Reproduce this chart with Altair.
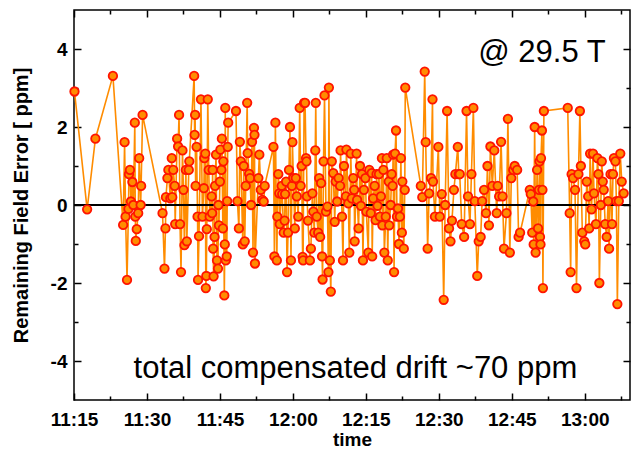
import altair as alt
import pandas as pd

# Minutes after 11:15 at which each compensation reading was logged
minutes = [
    0.1, 2.7, 4.4, 8.0, 10.1, 10.4, 10.6, 10.9, 11.2, 11.3, 11.5, 11.7, 12.0, 12.2,
    12.5, 12.6, 12.7, 12.9, 13.2, 13.4, 13.7, 13.8, 14.1, 18.2,
    18.6, 18.8, 18.9, 19.2, 19.4, 19.8, 20.1, 20.2, 20.4, 20.7, 20.8, 21.2, 21.4,
    21.6, 21.8, 22.0, 22.3, 22.5, 22.7, 23.0, 23.2, 23.6, 23.7, 24.7, 24.8, 24.9,
    25.0, 25.2, 25.4, 25.5, 25.7, 26.1, 26.4, 26.7, 26.8, 27.0, 27.1, 27.2, 27.3,
    27.5, 27.7, 27.9, 28.3, 28.4, 28.5, 28.6, 28.7, 28.9, 29.0, 29.2, 29.4, 29.6,
    29.7, 29.8, 30.0, 30.1, 30.3, 30.4, 30.6, 30.7, 30.9, 31.0, 31.1, 31.2, 31.4,
    31.5, 31.6, 31.7, 33.3, 33.6, 33.9, 34.1, 34.3, 34.7, 34.9, 35.1, 35.3, 35.6,
    35.7, 36.0, 36.2, 36.4, 36.6, 36.8, 37.0, 37.1, 37.2,
    37.9, 38.1, 38.4, 38.7, 39.0, 39.2, 41.0, 41.2, 41.4, 41.7, 41.8, 42.0, 42.2,
    42.3, 42.7, 42.8, 43.1, 43.3, 43.4, 43.6, 43.8, 44.0, 44.2, 44.4, 44.6, 44.8,
    44.9, 45.1, 45.4, 45.6, 45.8, 46.1, 46.4, 46.6, 46.8, 47.0, 47.1, 47.3, 47.5,
    47.7, 47.8, 47.9, 48.1, 48.5, 48.7, 49.0, 49.2, 49.4, 49.6, 49.7, 49.9, 50.2,
    50.4, 50.6, 50.8, 51.0, 51.1, 51.3, 51.5, 51.8, 52.1, 52.3, 52.4, 52.6, 52.8,
    53.0, 53.3, 53.6, 53.8, 54.1, 54.4, 54.7, 54.8, 55.1, 55.3, 55.5,
    55.9, 56.0, 56.4, 56.6, 56.9, 57.1, 57.4, 57.6, 57.7, 58.1, 58.2, 58.5, 58.8,
    59.0, 59.2, 59.4, 59.6, 59.9, 60.1, 60.5, 60.7, 61.0, 61.2, 61.3, 61.5, 61.8,
    62.0, 62.2, 62.4, 62.7, 62.9, 63.1, 63.3, 63.4, 63.6, 63.8, 64.1, 64.3, 64.5,
    64.7, 64.8, 65.1, 65.3, 65.5, 65.6, 65.8, 66.0, 66.2, 66.4, 66.6, 66.8, 67.0,
    67.2, 67.4, 67.5, 67.8, 68.0, 68.1, 71.3, 71.6, 72.1, 72.3, 72.7, 73.0, 73.4,
    73.7, 73.8, 74.2,
    74.9, 75.2, 75.6, 76.0, 76.3, 76.7, 77.1, 77.4, 77.7, 78.1, 78.4, 78.9, 79.1,
    79.3, 79.7, 80.2, 80.7, 81.0, 81.4, 81.7, 82.1, 82.4, 82.9, 83.2, 83.6, 83.9,
    84.3, 84.7, 85.0, 85.3, 85.6, 86.0, 86.4, 86.9, 87.1, 87.4, 87.8, 88.1, 88.4,
    88.9, 89.2, 89.6, 89.9, 90.3, 90.6, 91.1, 91.4, 91.7,
    93.7, 93.9, 94.2, 94.4, 94.5, 94.7, 94.9, 95.2, 95.4, 95.6, 95.7, 95.8, 95.9,
    96.0, 96.2, 96.3, 96.4, 96.6, 101.5, 101.9, 102.1, 102.3, 102.6, 103.0, 103.3,
    103.7, 104.0, 104.2, 104.5, 104.9, 105.1, 105.4, 105.7, 105.9, 106.1, 106.4,
    106.7, 106.9, 107.3, 107.6, 107.8, 108.0, 108.3, 108.5, 108.7, 108.9, 109.2,
    109.5, 109.8, 110.0, 110.3, 110.6, 110.8, 111.0, 111.3, 111.5, 111.7, 112.0,
    112.3, 112.6, 113.0,
]

# Remaining field error after drift compensation, in ppm
error_ppm = [
    2.91, -0.11, 1.70, 3.31, -0.51, 1.61, -0.30, -1.92, -0.10, 0.79, 0.90, 0.09, 0.59, 0.00,
    2.11, -0.30, -0.92, -0.62, -0.21, 1.20, 0.00, 0.49, 2.31, -0.21,
    -1.63, -0.60, 0.20, 0.69, 0.90, 0.17, 1.20, 0.20, 0.90, 0.49, -0.49, 1.70, 1.50,
    2.31, -0.49, -1.72, 1.40, 0.39, -1.03, 0.90, -0.93, 0.90, 1.12, 3.31, 1.80, 2.31,
    0.49, 1.49, -0.30, -1.92, -0.80, 2.71, -0.30, 0.43, 1.20, 1.32, -2.13, -1.82, -0.62,
    2.71, 0.90, -0.30, 0.22, -0.21, 0.90, -1.12, -1.83, -0.82, 0.49, 1.29, -1.42, -1.63,
    0.00, -0.52, 0.60, 1.42, 0.90, 1.70, -0.60, 1.12, -2.32, -1.01, 2.49, -1.42, -1.32,
    0.10, 1.49, 2.11, 2.41, 0.10, -0.60, 1.62, 1.12, -1.01, 1.00, -0.93, 0.49, 2.62,
    1.33, 0.80, 0.69, 0.00, 1.62, -1.22, 1.98, 1.80, -1.50,
    0.69, 1.29, 0.39, 0.13, 0.09, 0.49, 1.49, -1.32, 2.11, -1.42, -0.30, 0.79, 0.30,
    -0.49, 0.49, 0.28, -0.71, -0.40, 0.28, 0.60, -1.72, -0.71, 0.90, 2.00, -1.42, 0.49,
    1.61, 0.69, -0.60, 0.69, 0.22, -0.30, 2.49, 0.49, 1.00, -1.33, -1.42, 2.62, 2.62,
    1.20, 1.12, 0.22, -0.40, -1.42, -1.12, 0.30, -0.17, -0.71, 1.40, 2.62, -0.30, -0.71,
    0.69, -0.82, 0.56, -1.32, -1.91, 1.12, 2.81, -0.17, -0.04, -1.72, 3.01, -1.42, -2.22,
    1.12, 0.82, -0.43, 0.60, 0.09, 0.69, 0.49, 1.40, -0.30, -1.42, 1.00,
    0.22, 1.42, 0.04, -1.22, 1.32, 0.17, 0.69, 0.39, -0.93, 1.32, 0.13, -0.60, 1.00,
    -0.02, 0.79, -1.42, 0.39, 0.69, -0.17, -1.22, 0.90, -0.21, 0.82, -1.32, 0.17, 0.49,
    -0.39, 0.79, -0.02, 0.79, -0.30, 0.22, 1.20, -0.52, 0.90, -1.22, -0.30, 1.20, -1.42,
    0.60, -0.52, 0.00, 0.79, 0.49, 1.29, -1.72, 1.32, 1.91, -0.30, -0.09, -1.00, -0.30,
    1.20, -0.71, 0.60, -1.12, 0.39, 3.01, 0.49, 0.20, 3.42, 1.61, -1.12, 0.30, 0.69,
    2.71, 0.60, -0.30,
    1.49, -0.30, 0.28, -2.43, 0.00, 2.41, -0.60, -0.93, -0.40, 0.39, 0.79, 1.49, 0.79,
    0.79, -0.49, -0.82, 2.41, 0.22, -0.49, 0.79, 2.49, 0.10, -1.82, -0.93, -0.82, 0.10,
    0.39, -0.21, 1.00, -0.52, 1.50, 0.49, 1.40, -0.21, 0.49, 0.22, 1.62, 0.22, -1.12,
    -0.21, 2.21, -1.22, 0.69, 0.90, 1.00, 0.90, -0.82, -0.71,
    0.39, 0.28, -0.71, 0.09, -1.01, 2.00, -1.22, 0.90, -0.60, 0.39, 1.12, -0.82, -1.01,
    1.20, 1.91, 0.39, -2.13, 2.41, 2.49, -0.21, -1.72, 0.79, 0.69, 0.39, -2.13,
    0.79, 2.41, 1.00, -0.71, -0.93, -1.01, 0.60, 0.22, -0.60, 1.32, -0.11,
    1.32, 0.30, -0.49, 1.20, 0.79, -2.00, 0.00, 1.12, 0.60, 0.39, -0.49,
    -0.82, 0.10, -1.12, 0.79, -0.49, 0.79, 1.20, 1.12, 0.10, -2.54, 0.10,
    1.32, 0.60, 0.30,
]

# Axis tick positions (minutes after 11:15; every second one is labelled)
x_tick_minutes = [0, 7.5, 15, 22.5, 30, 37.5, 45, 52.5, 60, 67.5, 75, 82.5, 90, 97.5, 105, 112.5]
x_span_minutes = 114.3
y_ticks = [-4, -3, -2, -1, 0, 1, 2, 3, 4]
y_range = [-5, 5]

# Text notes: (minutes after 11:15, ppm, text)
note_field = (109.3, 3.66, "@ 29.5 T")
note_drift = (57.85, -4.43, "total compensated drift ~70 ppm")

start = pd.Timestamp("2000-01-01 11:15:00")


def at(m):
    return start + pd.Timedelta(minutes=m)


def dt(m):
    t = at(m)
    return alt.DateTime(year=t.year, month=t.month, date=t.day,
                        hours=t.hour, minutes=t.minute, seconds=t.second)


df = pd.DataFrame({"time": [at(m) for m in minutes], "error": error_ppm})
field_df = pd.DataFrame({"time": [at(note_field[0])], "error": [note_field[1]], "text": [note_field[2]]})
drift_df = pd.DataFrame({"time": [at(note_drift[0])], "error": [note_drift[1]], "text": [note_drift[2]]})

FONT = "Liberation Sans"
AXIS_SIZE = 19
LINE = "#ff8c00"
FILL = "#ff8c00"
EDGE = "#ff1400"

x_scale = alt.Scale(domain=[dt(0), dt(x_span_minutes)], nice=False)
y_scale = alt.Scale(domain=y_range, nice=False, zero=False)
x_values = [dt(m) for m in x_tick_minutes]

x_major = "seconds(datum.value) == 0"
y_major = "datum.value % 2 == 0"
minor_dash = [0, 3, 4, 20]

bottom_axis = alt.Axis(
    orient="bottom", values=x_values, offset=-7, tickSize=7, tickWidth=1.5,
    tickColor="black", tickDash={"condition": {"test": x_major, "value": []}, "value": minor_dash},
    labelExpr=f"{x_major} ? timeFormat(datum.value, '%H:%M') : ''",
    labelOverlap=False, labelFlush=False, labelFont=FONT, labelFontSize=AXIS_SIZE,
    labelFontWeight="bold", labelColor="black", labelPadding=10, domain=False, grid=False,
    title="time", titleFont=FONT, titleFontSize=AXIS_SIZE, titleFontWeight="bold",
    titleColor="black", titlePadding=1,
)
left_axis = alt.Axis(
    orient="left", values=y_ticks, offset=-7, tickSize=7, tickWidth=1.5,
    tickColor="black", tickDash={"condition": {"test": y_major, "value": []}, "value": minor_dash},
    labelExpr=f"{y_major} ? '' + datum.value : ''",
    labelOverlap=False, labelFlush=False, labelFont=FONT, labelFontSize=AXIS_SIZE,
    labelFontWeight="bold", labelColor="black", labelPadding=7, domain=False, grid=False,
    title="Remaining Field Error [ ppm]", titleFont=FONT, titleFontSize=20,
    titleFontWeight="bold", titleColor="black", titlePadding=19,
)
top_axis = alt.Axis(
    orient="top", values=x_values, offset=-7, tickSize=7, tickWidth=1.5,
    tickColor="black", tickDash={"condition": {"test": x_major, "value": []}, "value": minor_dash},
    labels=False, domain=False, grid=False, title=None,
)
right_axis = alt.Axis(
    orient="right", values=y_ticks, offset=-7, tickSize=7, tickWidth=1.5,
    tickColor="black", tickDash={"condition": {"test": y_major, "value": []}, "value": minor_dash},
    labels=False, domain=False, grid=False, title=None,
)

base = alt.Chart(df)

trace = base.mark_line(color=LINE, strokeWidth=1.6).encode(
    x=alt.X("time:T", scale=x_scale, axis=None),
    y=alt.Y("error:Q", scale=y_scale, axis=None),
)

zero_line = alt.Chart(df).mark_rule(color="black", strokeWidth=2).encode(
    y=alt.YDatum(0, scale=y_scale, axis=None),
)

dots = base.mark_point(
    shape="circle", filled=True, fill=FILL, stroke=EDGE, strokeWidth=1.8,
    size=72, opacity=1,
).encode(
    x=alt.X("time:T", scale=x_scale, axis=bottom_axis),
    y=alt.Y("error:Q", scale=y_scale, axis=left_axis),
)

frame_ticks = base.mark_point(opacity=0).encode(
    x=alt.X("time:T", scale=x_scale, axis=top_axis),
    y=alt.Y("error:Q", scale=y_scale, axis=right_axis),
)

field_text = alt.Chart(field_df).mark_text(
    font=FONT, fontSize=31, align="right", baseline="alphabetic", color="black",
).encode(
    x=alt.X("time:T", scale=x_scale, axis=None),
    y=alt.Y("error:Q", scale=y_scale, axis=None),
    text="text:N",
)

drift_text = alt.Chart(drift_df).mark_text(
    font=FONT, fontSize=31, align="center", baseline="alphabetic", color="black",
).encode(
    x=alt.X("time:T", scale=x_scale, axis=None),
    y=alt.Y("error:Q", scale=y_scale, axis=None),
    text="text:N",
)

chart = (
    alt.layer(trace, zero_line, dots, frame_ticks, field_text, drift_text)
    .resolve_axis(x="independent", y="independent")
    .properties(
        width=556, height=390, autosize="none",
        padding={"left": 74, "top": 10, "right": 1, "bottom": 49},
        background="white",
    )
    .configure_view(stroke="black", strokeWidth=1.5)
)

chart.save("out.html", embed_options={"renderer": "svg", "actions": False})
